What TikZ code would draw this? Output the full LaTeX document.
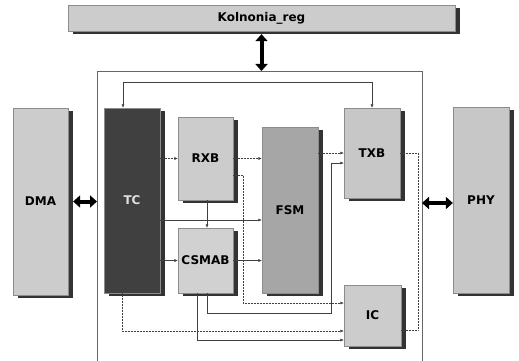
\documentclass[tikz,border=0pt]{standalone}
\usepackage{fontspec}
\setmainfont{DejaVu Sans}
\usetikzlibrary{shadows,arrows.meta}

\begin{document}
\begin{tikzpicture}[x=1pt,y=-1pt,
	blk/.style={draw=black!45, line width=0.3pt, inner sep=0pt,
		font=\bfseries\fontsize{12}{14}\selectfont,
		drop shadow={shadow xshift=5pt, shadow yshift=-3pt, fill=black!80, opacity=1}},
	sig/.style={-{Latex[length=3.5pt,width=3pt]}, line width=0.5pt, black!75},
	dots/.style={densely dotted},
	bus/.style={line width=4pt, {Triangle[length=7pt,width=12pt]}-{Triangle[length=7pt,width=12pt]}}]
	\useasboundingbox (0,0) rectangle (519,361);
	\foreach 
	\nm/\cx/\cy/\w/\h/\txt/\tone/\ink
	in
	{
		reg/261.5/18/387/26/Kolnonia\_reg/20/100,
		dma/40.5/201.5/55/187/DMA/20/100,
		tc/132/200.5/56/185/TC/75/12,
		rxb/205.5/158.5/55/83/RXB/20/100,
		csmab/205.5/260.5/55/65/CSMAB/18/100,
		fsm/290/210/56/166/FSM/35/100,
		txb/372/153/56/90/TXB/22/100,
		ic/372.5/315.5/57/61/IC/20/100,
		phy/481/200/56/186/PHY/22/100
	}
	{
		\node [blk, fill=black!\tone, text=black!\ink, minimum width=\w*1pt, minimum height=\h*1pt] (\nm) at (\cx,\cy) {\txt};
	}
	% frame round the core
	\coordinate (fL) at (97,71);
	\coordinate (fR) at (422,71);
	\draw [black!60, line width=0.6pt] (fL) ++(0,290) -- (fL) -- (fR) -- ++(0,290);
	\draw [bus] ([yshift=-3pt]reg.south) -- (reg.south |- fL);
	\draw [bus] ([xshift=5pt]dma.east) -- (dma.east -| fL);
	\draw [bus] ([yshift=-3pt]phy.west -| fR) -- ([yshift=-3pt]phy.west);
	% bends
	\coordinate (fbL) at (123,82);
	\coordinate (jRI) at (243,303);
	\coordinate (jTX) at (331,313);
	\coordinate (jTI) at (122,331);
	\coordinate (jCI) at (197,340);
	\coordinate (jIT) at (418,153);
	\coordinate (lvF) at (0,220);
	\draw [sig, {Latex[length=3.5pt,width=3pt]}-{Latex[length=3.5pt,width=3pt]}] (tc.north -| fbL) -- (fbL) -| (txb.north);
	\draw [sig, dots] (tc.east |- rxb.west) -- (rxb.west);
	\draw [sig, dots] (rxb.east) -- (rxb.east -| fsm.west);
	\draw [sig] (tc.east |- lvF) -- (fsm.west |- lvF);
	\draw [sig] ([xshift=1.5pt]rxb.south) -- ([xshift=1.5pt]csmab.north);
	\draw [sig] (tc.east |- csmab.west) -- (csmab.west);
	\draw [sig] (csmab.east) -- (csmab.east -| fsm.west);
	\draw [sig, dots] (fsm.east |- txb.west) -- (txb.west);
	\draw [sig] ([xshift=1.5pt]csmab.south) |- (jTX) |- ([yshift=-10pt]txb.west);
	\draw [sig, dots] ([yshift=-16.5pt]rxb.east) -| (jRI) -- (jRI -| ic.west);
	\draw [sig, dots] (tc.south -| jTI) -- (jTI) -- (jTI -| ic.west);
	\draw [sig] (csmab.south -| jCI) -- (jCI) -- (jCI -| ic.west);
	\draw [black!75, line width=0.5pt, dots] ([yshift=-14.5pt]ic.east) -| (jIT) -- (txb.east);
\end{tikzpicture}
\end{document}
